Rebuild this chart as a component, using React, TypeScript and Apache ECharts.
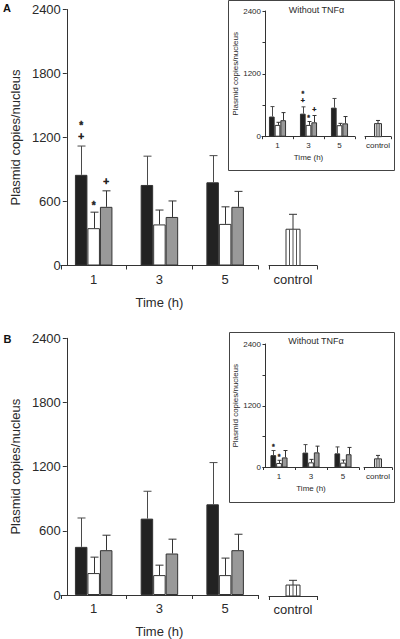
import React, { useEffect, useRef } from 'react';
import * as echarts from 'echarts';

const FONT = 'Liberation Sans, Arial, Helvetica, sans-serif';
const TXT = '#2a2a2a';

const groups = ['1', '3', '5'];
const controlCat = ['control'];
const xName = 'Time (h)';
const yName = 'Plasmid copies/nucleus';
const insetTitle = 'Without TNF\u03b1';

// Panel A (main)
const aBlack = [850, 755, 780];
const aBlackErr = [1120, 1025, 1030];
const aWhite = [350, 385, 390];
const aWhiteErr = [500, 520, 550];
const aGray = [550, 455, 550];
const aGrayErr = [700, 605, 695];
const aControl = 340;
const aControlErr = 480;
const aMarks = [
  { cat: 0, bar: 0, text: '+' },
  { cat: 0, bar: 0, text: '*' },
  { cat: 0, bar: 1, text: '*' },
  { cat: 0, bar: 2, text: '+' },
];

// Panel A (inset, without TNFα)
const aiBlack = [385, 440, 555];
const aiBlackErr = [575, 570, 730];
const aiWhite = [225, 225, 220];
const aiWhiteErr = [275, 290, 255];
const aiGray = [315, 275, 255];
const aiGrayErr = [460, 405, 385];
const aiControl = 250;
const aiControlErr = 310;
const aiMarks = [
  { cat: 1, bar: 0, text: '+' },
  { cat: 1, bar: 0, text: '*' },
  { cat: 1, bar: 1, text: '*' },
  { cat: 1, bar: 2, text: '+' },
];

// Panel B (main)
const bBlack = [450, 714, 848];
const bBlackErr = [720, 970, 1238];
const bWhite = [205, 186, 186];
const bWhiteErr = [354, 279, 345];
const bGray = [419, 388, 419];
const bGrayErr = [559, 522, 568];
const bControl = 102;
const bControlErr = 146;
const bMarks: { cat: number; bar: number; text: string }[] = [];

// Panel B (inset, without TNFα)
const biBlack = [240, 290, 275];
const biBlackErr = [330, 445, 400];
const biWhite = [88, 100, 95];
const biWhiteErr = [140, 158, 145];
const biGray = [196, 294, 258];
const biGrayErr = [330, 415, 390];
const biControl = 168;
const biControlErr = 235;
const biMarks = [
  { cat: 0, bar: 0, text: '*' },
  { cat: 0, bar: 1, text: '*' },
];

type PanelData = {
  black: number[]; blackErr: number[];
  white: number[]; whiteErr: number[];
  gray: number[]; grayErr: number[];
  control: number; controlErr: number;
  marks: { cat: number; bar: number; text: string }[];
};

type Layout = {
  left: number; width: number; top: number; height: number;
  ctrlLeft: number; ctrlWidth: number; yOffset: number;
  barW: number; ctrlBarW: number; cap: number; font: number; markFont: number;
  yInterval: number; labelEvery: number; yNameGap: number; xNameGap: number;
  labelMargin: number; tick: number; markGap: number; markStep: number; yLabelMargin: number;
};

function addPanel(opt: any, d: PanelData, L: Layout) {
  const gi = opt.grid.length;
  opt.grid.push({ left: L.left, top: L.top, width: L.width, height: L.height });
  opt.grid.push({ left: L.ctrlLeft, top: L.top, width: L.ctrlWidth, height: L.height });
  const axisLine = { show: true, lineStyle: { color: '#333', width: 1 } };
  const tick = { show: true, length: L.tick, lineStyle: { color: '#333', width: 1 } };
  const label = { color: TXT, fontSize: L.font, margin: L.labelMargin, fontFamily: FONT };
  opt.xAxis.push({
    gridIndex: gi, type: 'category', data: groups, axisLine, axisTick: tick, axisLabel: label,
    name: xName, nameLocation: 'middle', nameGap: L.xNameGap,
    nameTextStyle: { color: TXT, fontSize: L.font, fontFamily: FONT },
  });
  opt.xAxis.push({ gridIndex: gi + 1, type: 'category', data: controlCat, axisLine, axisTick: tick, axisLabel: label });
  opt.yAxis.push({
    gridIndex: gi, type: 'value', min: 0, max: 2400, interval: L.yInterval, offset: L.yOffset,
    axisLine, axisTick: tick, splitLine: { show: false },
    axisLabel: {
      color: TXT, fontSize: L.font, fontFamily: FONT, margin: L.yLabelMargin,
      formatter: (v: number) => (v % L.labelEvery === 0 ? String(v) : ''),
    },
    name: yName, nameLocation: 'middle', nameGap: L.yNameGap,
    nameTextStyle: { color: TXT, fontSize: L.font, fontFamily: FONT },
  });
  opt.yAxis.push({ gridIndex: gi + 1, type: 'value', min: 0, max: 2400, show: false });

  const bars = [
    { data: d.black, err: d.blackErr, color: '#222222', errColor: '#4a4a4a' },
    { data: d.white, err: d.whiteErr, color: '#ffffff', errColor: '#333' },
    { data: d.gray, err: d.grayErr, color: '#999999', errColor: '#333' },
  ];
  bars.forEach((b) => {
    opt.series.push({
      type: 'bar', xAxisIndex: gi, yAxisIndex: gi, data: b.data, barWidth: L.barW, barGap: '0%',
      itemStyle: { color: b.color, borderColor: '#333', borderWidth: 1 }, silent: true, z: 2,
    });
  });
  bars.forEach((b, i) => {
    const off = (i - 1) * L.barW;
    opt.series.push({
      type: 'custom', xAxisIndex: gi, yAxisIndex: gi, silent: true, z: 3,
      itemStyle: { color: b.errColor },
      data: b.err.map((v, k) => [k, v, b.data[k]]),
      renderItem: (params: any, api: any) => {
        const c = api.value(0);
        const pTop = api.coord([c, api.value(1)]);
        const pBase = api.coord([c, api.value(2)]);
        const x = Math.round(pBase[0] + off) + 0.5;
        return {
          type: 'group',
          children: [
            { type: 'line', shape: { x1: x, y1: pBase[1], x2: x, y2: pTop[1] }, style: { stroke: b.errColor, lineWidth: 1 } },
            { type: 'line', shape: { x1: x - L.cap, y1: pTop[1], x2: x + L.cap, y2: pTop[1] }, style: { stroke: b.errColor, lineWidth: 1 } },
          ],
        };
      },
    });
  });

  // control (striped) bar with its error bar
  opt.series.push({
    type: 'custom', xAxisIndex: gi + 1, yAxisIndex: gi + 1, silent: true, z: 3,
    itemStyle: { color: '#333' },
    data: [[0, d.control, d.controlErr]],
    renderItem: (params: any, api: any) => {
      const p0 = api.coord([0, 0]);
      const p1 = api.coord([0, api.value(1)]);
      const p2 = api.coord([0, api.value(2)]);
      const w = L.ctrlBarW;
      const x0 = p0[0] - w / 2;
      const children: any[] = [
        { type: 'rect', shape: { x: x0, y: p1[1], width: w, height: p0[1] - p1[1] }, style: { fill: '#fff', stroke: '#333', lineWidth: 1 } },
      ];
      for (let s = 1; s < 4; s++) {
        const x = x0 + (w * s) / 4;
        children.push({ type: 'line', shape: { x1: x, y1: p1[1], x2: x, y2: p0[1] }, style: { stroke: '#555', lineWidth: 1 } });
      }
      const xc = p0[0];
      children.push({ type: 'line', shape: { x1: xc, y1: p1[1], x2: xc, y2: p2[1] }, style: { stroke: '#333', lineWidth: 1 } });
      children.push({ type: 'line', shape: { x1: xc - L.cap, y1: p2[1], x2: xc + L.cap, y2: p2[1] }, style: { stroke: '#333', lineWidth: 1 } });
      return { type: 'group', children };
    },
  });

  // significance marks
  const levels: Record<string, number> = {};
  const errs = [d.blackErr, d.whiteErr, d.grayErr];
  const marks = d.marks.map((m) => {
    const key = m.cat + '-' + m.bar;
    const lvl = levels[key] || 0;
    levels[key] = lvl + 1;
    return { ...m, lvl, top: errs[m.bar][m.cat] };
  });
  if (marks.length) {
    opt.series.push({
      type: 'custom', xAxisIndex: gi, yAxisIndex: gi, silent: true, z: 4,
      itemStyle: { color: '#222' },
      data: marks.map((m) => [m.cat, m.top]),
      renderItem: (params: any, api: any) => {
        const m = marks[params.dataIndex];
        const p = api.coord([m.cat, m.top]);
        const x = p[0] + (m.bar - 1) * L.barW;
        const yc = p[1] - L.markGap - m.lvl * L.markStep;
        const star = m.text === '*';
        const k = L.markFont / 10;
        return {
          type: 'text', x, y: yc + (star ? L.markFont * 0.3 : 0),
          style: {
            text: m.text, fill: '#222222', stroke: '#222222', lineWidth: (star ? 0.4 : 0.7) * k,
            fontSize: L.markFont, fontFamily: FONT,
            fontWeight: star ? 'bold' : 'normal', align: 'center', verticalAlign: 'middle',
          },
        };
      },
    });
  }
}

const mainA: Layout = {
  left: 54, width: 204, top: 9.5, height: 256, ctrlLeft: 269, ctrlWidth: 48, yOffset: -6,
  barW: 12.5, ctrlBarW: 14, cap: 4, font: 13, markFont: 10, yInterval: 600, labelEvery: 600,
  yNameGap: 45, xNameGap: 30, labelMargin: 7, tick: 4, markGap: 9.5, markStep: 14, yLabelMargin: 6,
};
const insetA: Layout = {
  left: 262, width: 93, top: 11, height: 125.7, ctrlLeft: 365, ctrlWidth: 26, yOffset: -3,
  barW: 5.7, ctrlBarW: 7, cap: 2, font: 8, markFont: 7, yInterval: 600, labelEvery: 1200,
  yNameGap: 24, xNameGap: 17, labelMargin: 5, tick: 2.5, markGap: 6, markStep: 9, yLabelMargin: 4,
};
const mainB: Layout = { ...mainA, top: 338.3, height: 257.7 };
const insetB: Layout = { ...insetA, left: 263, width: 96, top: 344, height: 123.5, ctrlLeft: 364, ctrlWidth: 28, yOffset: -2 };

export default function App() {
  const ref = useRef<HTMLDivElement>(null);
  useEffect(() => {
    if (!ref.current) return;
    const chart = echarts.init(ref.current, undefined, { renderer: 'svg' });
    const opt: any = {
      animation: false,
      backgroundColor: '#ffffff',
      textStyle: { fontFamily: FONT },
      grid: [], xAxis: [], yAxis: [], series: [],
      graphic: [
        { type: 'rect', shape: { x: 228.5, y: 0.5, width: 166, height: 170 }, style: { fill: 'none', stroke: '#444', lineWidth: 1 }, z: 0 },
        { type: 'rect', shape: { x: 229.5, y: 332.5, width: 165, height: 170 }, style: { fill: 'none', stroke: '#444', lineWidth: 1 }, z: 0 },
        { type: 'text', x: 316.5, y: 9.5, style: { text: insetTitle, fill: TXT, fontSize: 9, fontFamily: FONT, align: 'center', verticalAlign: 'middle' } },
        { type: 'text', x: 316, y: 341, style: { text: insetTitle, fill: TXT, fontSize: 9, fontFamily: FONT, align: 'center', verticalAlign: 'middle' } },
        { type: 'text', x: 7, y: 7.5, style: { text: 'A', fill: '#111', fontSize: 11, fontWeight: 'bold', fontFamily: FONT, align: 'center', verticalAlign: 'middle' } },
        { type: 'text', x: 7.5, y: 339, style: { text: 'B', fill: '#111', fontSize: 11, fontWeight: 'bold', fontFamily: FONT, align: 'center', verticalAlign: 'middle' } },
      ],
    };
    addPanel(opt, { black: aBlack, blackErr: aBlackErr, white: aWhite, whiteErr: aWhiteErr, gray: aGray, grayErr: aGrayErr, control: aControl, controlErr: aControlErr, marks: aMarks }, mainA);
    addPanel(opt, { black: aiBlack, blackErr: aiBlackErr, white: aiWhite, whiteErr: aiWhiteErr, gray: aiGray, grayErr: aiGrayErr, control: aiControl, controlErr: aiControlErr, marks: aiMarks }, insetA);
    addPanel(opt, { black: bBlack, blackErr: bBlackErr, white: bWhite, whiteErr: bWhiteErr, gray: bGray, grayErr: bGrayErr, control: bControl, controlErr: bControlErr, marks: bMarks }, mainB);
    addPanel(opt, { black: biBlack, blackErr: biBlackErr, white: biWhite, whiteErr: biWhiteErr, gray: biGray, grayErr: biGrayErr, control: biControl, controlErr: biControlErr, marks: biMarks }, insetB);
    chart.setOption(opt);
    return () => chart.dispose();
  }, []);
  return <div ref={ref} style={{ position: 'absolute', left: 0, top: 0, width: 400, height: 639 }} />;
}
